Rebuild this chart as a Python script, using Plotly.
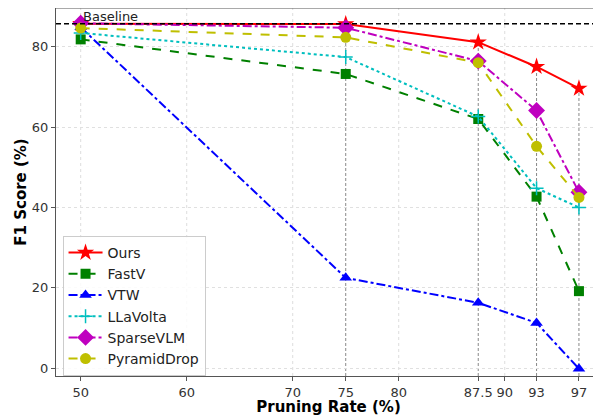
import plotly.graph_objects as go

rates = [50, 75, 87.5, 93, 97]
ours = [85.7, 85.6, 81.1, 75.0, 69.6]
fastv = [81.8, 73.2, 62.0, 42.7, 19.2]
vtw = [84.8, 22.5, 16.3, 11.3, -0.1]
llavolta = [83.4, 77.4, 62.6, 44.8, 40.0]
sparsevlm = [85.8, 84.7, 76.4, 64.1, 43.8]
pyramiddrop = [84.6, 82.3, 76.0, 55.2, 42.5]
baseline = 85.7

xticks = [50, 60, 70, 75, 80, 87.5, 90, 93, 97]
xgrid = [50, 60, 70, 80, 90]
yticks = [0, 20, 40, 60, 80]

YMIN, YMAX = -1.9, 89.6
XMIN, XMAX = 47.67, 99.08

series = [
    ("Ours", ours, "#ff0000", "solid", "star", 13),
    ("FastV", fastv, "#008000", "dash", "square", 10),
    ("VTW", vtw, "#0000ff", "dashdot", "triangle-up", 11),
    ("LLaVolta", llavolta, "#00bfbf", "dot", "cross-thin-open", 10),
    ("SparseVLM", sparsevlm, "#bf00bf", "dashdot", "diamond", 13),
    ("PyramidDrop", pyramiddrop, "#bfbf00", "dash", "circle", 11),
]

fig = go.Figure()

shapes = []
for gx in xgrid:
    shapes.append(dict(type="line", xref="x", yref="y", x0=gx, x1=gx, y0=YMIN, y1=YMAX,
                       line=dict(color="#dddddd", width=1, dash="dot"), layer="below"))
for x, y in zip(rates[1:], ours[1:]):
    shapes.append(dict(type="line", xref="x", yref="y", x0=x, x1=x, y0=YMIN, y1=y,
                       line=dict(color="#888888", width=1, dash="3px,2px"), layer="below"))
shapes.append(dict(type="line", xref="paper", yref="y", x0=0, x1=1, y0=baseline, y1=baseline,
                   line=dict(color="black", width=1.5, dash="5px,3px")))
shapes.append(dict(type="line", xref="paper", yref="paper", x0=0, x1=1, y0=1, y1=1,
                   line=dict(color="#555555", width=1)))

for name, vals, color, dash, sym, size in series:
    fig.add_trace(go.Scatter(
        x=rates, y=vals, name=name, mode="lines+markers",
        line=dict(color=color, width=2, dash=dash),
        marker=dict(symbol=sym, size=size, color=color,
                    line=dict(color=color, width=1.5 if sym == "cross-thin-open" else 0)),
    ))

fig.add_annotation(x=rates[0], y=baseline, xref="x", yref="y", text="Baseline",
                   showarrow=False, xanchor="left", yanchor="bottom", yshift=-2,
                   font=dict(size=13, color="#222222", family="DejaVu Sans"))

# page body has an 8px default margin, so the figure is sized to fill the rest of the window
fig.update_layout(
    width=593, height=408,
    margin=dict(l=48, r=0, t=0, b=40),
    plot_bgcolor="white", paper_bgcolor="white",
    font=dict(family="DejaVu Sans", size=13, color="#333333"),
    shapes=shapes,
    showlegend=True,
    legend=dict(x=0.012, y=0.0, xanchor="left", yanchor="bottom",
                bgcolor="rgba(255,255,255,0.85)", bordercolor="#cccccc", borderwidth=1,
                font=dict(size=14, color="#222222"), tracegroupgap=0, itemwidth=34),
    xaxis=dict(range=[XMIN, XMAX], tickvals=xticks, ticktext=[str(t) for t in xticks],
               showgrid=False, zeroline=False, showline=True, linecolor="#555555", linewidth=1,
               ticks="outside", ticklen=4, tickcolor="#555555", automargin=False,
               title=dict(text="<b>Pruning Rate (%)</b>", font=dict(size=15, color="black"), standoff=3)),
    yaxis=dict(range=[YMIN, YMAX], tickvals=yticks, showgrid=True, gridcolor="#e0e0e0",
               griddash="dot", gridwidth=1, zeroline=False, showline=True,
               linecolor="#555555", linewidth=1, ticks="outside", ticklen=4, tickcolor="#555555",
               automargin=False,
               title=dict(text="<b>F1 Score (%)</b>", font=dict(size=15, color="black"), standoff=1)),
)

fig.write_html("out.html")
